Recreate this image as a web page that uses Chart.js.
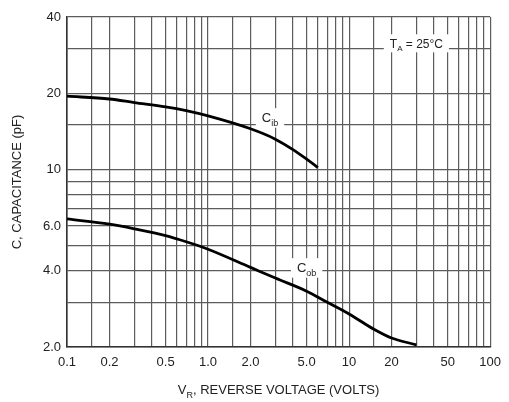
<!DOCTYPE html>
<html><head><meta charset="utf-8">
<script src="https://cdn.jsdelivr.net/npm/chart.js@4"></script>
<style>html,body{margin:0;padding:0;background:#fff}#wrap{width:509px;height:402px;position:relative}</style>
</head><body><div id="wrap"><canvas id="c"></canvas></div>
<script>
// Series data
const cibVoltage = [0.1, 0.2, 0.3, 0.5, 0.7, 1.0, 2.0, 3.0, 4.0, 5.0, 6.0];
const cibCap     = [19.5, 19.0, 18.4, 17.7, 17.1, 16.3, 14.5, 13.2, 12.0, 11.0, 10.2];
const cobVoltage = [0.1, 0.2, 0.3, 0.5, 0.7, 1.0, 2.0, 3.0, 5.0, 7.0, 10, 15, 20, 30];
const cobCap     = [6.4, 6.1, 5.85, 5.5, 5.2, 4.86, 4.12, 3.74, 3.32, 3.0, 2.7, 2.35, 2.17, 2.04];

// Grid / tick values and labels
const xGridValues = [0.1,0.15,0.2,0.3,0.4,0.5,0.6,0.7,0.8,0.9,1,1.5,2,3,4,5,6,7,8,9,10,15,20,30,40,50,60,70,80,90,100];
const yGridValues = [2,3,4,5,6,7,8,9,10,15,20,30,40];
const xLabelValues = [0.1, 0.2, 0.5, 1, 2, 5, 10, 20, 50, 100];
const xLabelTexts  = ['0.1','0.2','0.5','1.0','2.0','5.0','10','20','50','100'];
const yLabelValues = [2, 4, 6, 10, 20, 40];
const yLabelTexts  = ['2.0','4.0','6.0','10','20','40'];

const FONT = '"Liberation Sans", Arial, sans-serif';
const TXT = '#222';

function labelFor(v, vals, texts){
  for (let i=0;i<vals.length;i++) if (Math.abs(vals[i]-v) < 1e-9*Math.max(1,v)) return texts[i];
  return '';
}
function pts(xs, ys){ return xs.map((x,i)=>({x:x, y:ys[i]})); }

function drawParts(ctx, parts, x, y, size, align){
  const sub = Math.round(size*0.7);
  let w = 0;
  parts.forEach(p=>{ ctx.font = (p.sub?sub:size)+'px '+FONT; p.w = ctx.measureText(p.t).width; w += p.w; });
  let cx = align==='center' ? x - w/2 : x;
  ctx.textAlign='left'; ctx.textBaseline='alphabetic';
  parts.forEach(p=>{
    ctx.font = (p.sub?sub:size)+'px '+FONT;
    ctx.fillText(p.t, cx, p.sub ? y + size*0.3 : y);
    cx += p.w;
  });
  return w;
}

const textPlugin = {
  id:'texts',
  beforeDatasetsDraw(chart){
    const ctx = chart.ctx, xs = chart.scales.x, ys = chart.scales.y;
    ctx.save();
    const labels = [
      {parts:[{t:'C'},{t:'ib',sub:true}], v:2.75, c:16.0, size:13},
      {parts:[{t:'C'},{t:'ob',sub:true}], v:5.0, c:4.1, size:13},
      {parts:[{t:'T'},{t:'A',sub:true},{t:' = 25°C'}], v:30, c:31.5, size:12}
    ];
    labels.forEach(l=>{
      const px = xs.getPixelForValue(l.v), py = ys.getPixelForValue(l.c);
      let w=0; const sub=Math.round(l.size*0.7);
      l.parts.forEach(p=>{ctx.font=(p.sub?sub:l.size)+'px '+FONT; w+=ctx.measureText(p.t).width;});
      ctx.fillStyle='#fff';
      ctx.fillRect(px - w/2 - 6, py - l.size*0.75, w + 12, l.size*1.5);
      ctx.fillStyle=TXT;
      drawParts(ctx, l.parts, px, py + l.size*0.35, l.size, 'center');
    });
    ctx.restore();
  },
  afterDraw(chart){
    const ctx = chart.ctx, a = chart.chartArea;
    ctx.save();
    ctx.fillStyle = TXT;
    drawParts(ctx, [{t:'V'},{t:'R',sub:true},{t:', REVERSE VOLTAGE (VOLTS)'}], (a.left+a.right)/2, 394, 13, 'center');
    ctx.translate(21, (a.top+a.bottom)/2);
    ctx.rotate(-Math.PI/2);
    drawParts(ctx, [{t:'C, CAPACITANCE (pF)'}], 0, 0, 13, 'center');
    ctx.restore();
  }
};

new Chart(document.getElementById('c'), {
  type:'line',
  data:{ datasets:[
    {label:'Cib', data:pts(cibVoltage, cibCap), borderColor:'#000', borderWidth:2.8, pointRadius:0, fill:false, cubicInterpolationMode:'monotone'},
    {label:'Cob', data:pts(cobVoltage, cobCap), borderColor:'#000', borderWidth:2.8, pointRadius:0, fill:false, cubicInterpolationMode:'monotone'}
  ]},
  options:{
    responsive:true, maintainAspectRatio:false, animation:false,
    layout:{ padding:{left:0, right:12, top:17, bottom:0}, autoPadding:false },
    plugins:{ legend:{display:false}, tooltip:{enabled:false} },
    scales:{
      x:{ type:'logarithmic', min:0.1, max:100,
        afterBuildTicks(s){ s.ticks = xGridValues.map(v=>({value:v})); },
        afterFit(s){ s.height = 55; },
        ticks:{ autoSkip:false, maxRotation:0, padding:8, color:TXT, font:{family:FONT, size:13},
          callback:(v)=>labelFor(v, xLabelValues, xLabelTexts) },
        grid:{ color:'#5c5c5c', lineWidth:1.2, drawTicks:false },
        border:{ display:true, color:'#333', width:1.6 }
      },
      y:{ type:'logarithmic', min:2, max:40,
        afterBuildTicks(s){ s.ticks = yGridValues.map(v=>({value:v})); },
        afterFit(s){ s.width = 67; },
        ticks:{ autoSkip:false, padding:6, color:TXT, font:{family:FONT, size:13},
          callback:(v)=>labelFor(v, yLabelValues, yLabelTexts) },
        grid:{ color:'#5c5c5c', lineWidth:1.2, drawTicks:false },
        border:{ display:true, color:'#333', width:1.6 }
      }
    }
  },
  plugins:[textPlugin]
});
</script>
</body></html>
